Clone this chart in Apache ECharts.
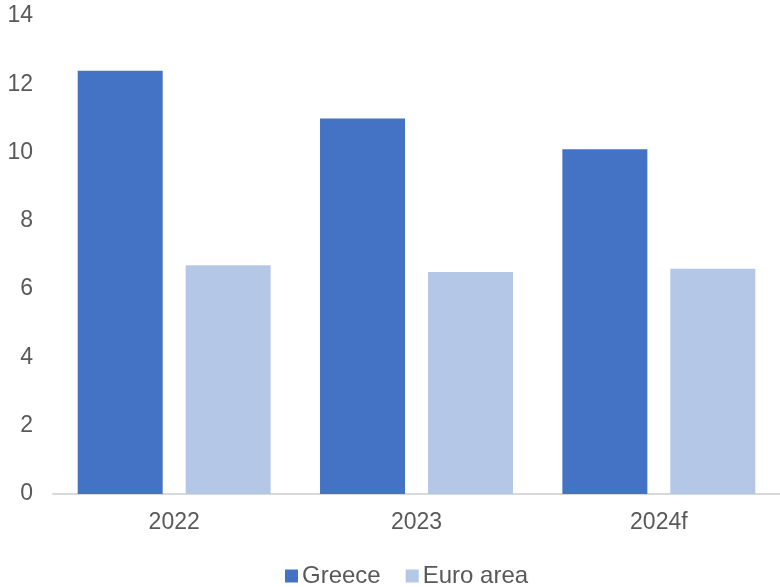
<!DOCTYPE html>
<html>
<head>
<meta charset="utf-8">
<script src="https://cdn.jsdelivr.net/npm/echarts@6/dist/echarts.min.js"></script>
<style>
  html, body { margin: 0; padding: 0; background: #fff; }
  #chart { width: 780px; height: 587px; }
</style>
</head>
<body>
<div id="chart"></div>
<script>
const categories = ['2022', '2023', '2024f'];
const greece = [12.4, 11.0, 10.1];
const euroArea = [6.7, 6.5, 6.6];
const yTicks = { min: 0, max: 14, interval: 2 };

const chart = echarts.init(document.getElementById('chart'), null, { renderer: 'canvas' });
const font = '"Liberation Sans", Arial, sans-serif';

chart.setOption({
  animation: false,
  grid: { left: 53, right: 0, top: 16, bottom: 93, containLabel: false },
  legend: {
    top: 559,
    left: 280,
    itemWidth: 13,
    itemHeight: 13,
    itemGap: 25,
    icon: 'rect',
    textStyle: { fontFamily: font, fontSize: 24, color: '#595959', padding: [0, 0, 0, -1] },
    data: ['Greece', 'Euro area']
  },
  xAxis: {
    type: 'category',
    data: categories,
    axisLine: { lineStyle: { color: '#D9D9D9', width: 2 } },
    axisTick: { show: false },
    axisLabel: { fontFamily: font, fontSize: 23, color: '#595959', margin: 17 }
  },
  yAxis: {
    type: 'value',
    min: yTicks.min,
    max: yTicks.max,
    interval: yTicks.interval,
    splitLine: { show: false },
    axisLine: { show: false },
    axisTick: { show: false },
    axisLabel: { fontFamily: font, fontSize: 23, color: '#595959', margin: 20 }
  },
  series: [
    {
      name: 'Greece',
      type: 'bar',
      data: greece,
      barWidth: 85,
      barGap: '27%',
      itemStyle: { color: '#4472C4' }
    },
    {
      name: 'Euro area',
      type: 'bar',
      data: euroArea,
      barWidth: 85,
      itemStyle: { color: '#B4C7E7' }
    }
  ]
});
</script>
</body>
</html>
